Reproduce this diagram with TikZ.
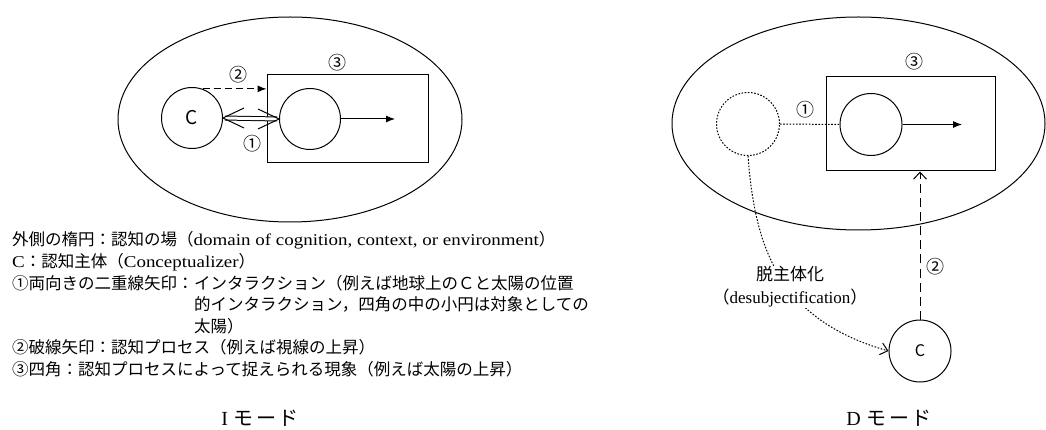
\documentclass[tikz,border=0pt]{standalone}
\usepackage{fontspec}
\setmainfont{Liberation Serif}[FakeStretch=1.15]
\newfontfamily\capserif{Liberation Serif}
\newfontfamily\jp{Noto Sans CJK JP}
\newfontfamily\jpcap{Noto Sans CJK JP}[LetterSpace=12]
\usetikzlibrary{arrows.meta,calc,shapes.geometric}
\begin{document}
\begin{tikzpicture}[x=1pt,y=-1pt,
  ln/.style={line width=1pt, black},
  field/.style={ellipse, draw, line width=1pt, inner sep=0pt},
  boxnode/.style={rectangle, draw, line width=1pt, inner sep=0pt},
  circ/.style={circle, draw, line width=1pt, inner sep=0pt, minimum size=61pt},
  dotline/.style={dash pattern=on 1.6pt off 1.6pt},
  dashline/.style={dash pattern=on 7pt off 4pt},
  num/.style={font=\jp\fontsize{18}{18}\selectfont, inner sep=0pt},
  txt/.style={font=\fontsize{16.5}{16.5}\selectfont, inner sep=0pt, anchor=base west},
  captxt/.style={font=\capserif\fontsize{20}{20}\selectfont, inner sep=0pt}
]
\useasboundingbox (0,0) rectangle (1046,430);

% ---------- I mode ----------
\node[field, minimum width=344pt, minimum height=205pt] (fieldI) at (290,119.5) {};
\node[boxnode, minimum width=161pt, minimum height=88pt] (boxI) at (347.5,119) {};
\node[circ] (cI) at (192,118) {\jp\fontsize{19}{19}\selectfont C};
\node[circ] (oI) at (310,119) {};
\coordinate (eI) at (395,119);
\draw[ln, -{Latex[length=9pt,width=7pt]}] (oI.east) -- (eI);
\draw[ln, dashline, -{Latex[length=9pt,width=7pt]}] (cI.70) -- (cI.70 -| boxI.west);
\draw[ln, double, double distance=3pt, shorten <=2pt, shorten >=2pt] (cI.east) -- (oI.west);
\draw[ln] ($(cI.east)+(21,-10)$) -- (cI.east) -- ($(cI.east)+(21,10)$);
\draw[ln] ($(oI.west)+(-21,-10)$) -- (oI.west) -- ($(oI.west)+(-21,10)$);
\node[num] (n2I) at (238,75) {②};
\node[num] (n3I) at (337,63) {③};
\node[num] (n1I) at (252,144) {①};

% ---------- legend ----------
\node[txt] (t1) at (12,246) {{\jp 外側の楕円：認知の場（}domain of cognition, context, or environment{\jp ）}};
\node[txt] (t2) at (12,267.5) {C{\jp ：認知主体（}Conceptualizer{\jp ）}};
\node[txt] (t3a) at (12,289) {\jp ①両向きの二重線矢印：};
\node[txt] (t3b) at (t3a.base east) {\jp インタラクション（例えば地球上のＣと太陽の位置};
\node[txt] (t4) at ($(t3b.base west)+(0,21.5)$) {\jp 的インタラクション，四角の中の小円は対象としての};
\node[txt] (t5) at ($(t4.base west)+(0,21.5)$) {\jp 太陽）};
\node[txt] (t6) at (12,353.5) {\jp ②破線矢印：認知プロセス（例えば視線の上昇）};
\node[txt] (t7) at (12,375) {\jp ③四角：認知プロセスによって捉えられる現象（例えば太陽の上昇）};

\node[captxt] (capI) at (260,418) {I\hspace{6pt}{\jpcap モード}};

% ---------- D mode ----------
\node[field, minimum width=373pt, minimum height=213pt] (fieldD) at (858.5,123.5) {};
\node[boxnode, minimum width=169pt, minimum height=94pt] (boxD) at (910.5,124) {};
\node[circ, dotline, minimum size=63pt] (gD) at (748,124) {};
\node[circ, minimum size=62pt] (oD) at (871,124.5) {};
\coordinate (eD) at (962,124.5);
\draw[ln, -{Latex[length=9pt,width=7pt]}] (oD.east) -- (eD);
\draw[ln, dotline] (gD.east) -- (oD.west);
\node[circ, minimum size=62pt] (cD) at (920,351) {\jp\fontsize{16}{16}\selectfont C};
\draw[ln, dash pattern=on 9pt off 5pt, -{Straight Barb[length=7pt,width=13pt]}] (cD.north) -- (cD.north |- boxD.south);
\draw[ln, dotline, -{Straight Barb[length=7pt,width=12pt]}] (gD.south) .. controls (755,250) and (780,320) .. (cD.west);
\node[fill=white, inner sep=1pt, align=center, font=\capserif\fontsize{17}{23}\selectfont] (lab) at (790,287) {{\jp 脱主体化}\\{\jp （}desubjectification{\jp ）}};
\node[num] (n1D) at (805,110) {①};
\node[num] (n3D) at (914,62) {③};
\node[num] (n2D) at (935,267) {②};

\node[captxt] (capD) at (889,418) {D\hspace{6pt}{\jpcap モード}};
\end{tikzpicture}
\end{document}
